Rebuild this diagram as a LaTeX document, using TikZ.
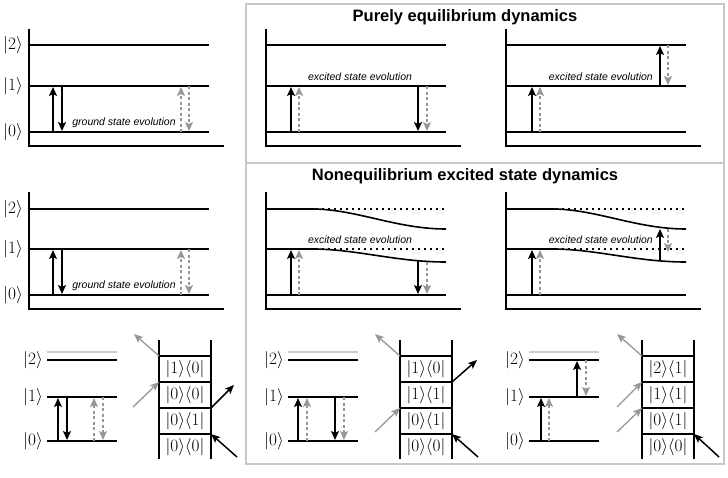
\documentclass[tikz,border=0pt]{standalone}
\usepackage{fontspec}
\setsansfont{Liberation Sans}
\definecolor{framegray}{RGB}{200, 200, 200}
\definecolor{arrowgray}{RGB}{150, 150, 150}
\definecolor{lightlevel}{RGB}{205, 205, 205}
\usetikzlibrary{arrows.meta, calc}
\tikzset{
    lvl/.style={line width=1.6pt},
    blk/.style={line width=1.6pt, -{Stealth[length=9pt, width=8pt, inset=2pt]}},
    gry/.style={line width=1.5pt, arrowgray, dash pattern=on 3pt off 2.5pt,
        -{Stealth[length=9pt, width=8pt, inset=2pt]}},
    lblk/.style={line width=1.5pt, -{Stealth[length=9pt, width=7.5pt, inset=2pt]}},
    lgry/.style={line width=1.3pt, arrowgray, -{Stealth[length=9pt, width=7.5pt, inset=2pt]}},
    dots/.style={line width=1.6pt, dash pattern=on 1.5pt off 4.5pt},
    framebox/.style={line width=1.5pt, framegray},
    ket/.style={font=\fontsize{16.5}{16.5}\selectfont, inner sep=0pt},
    evol/.style={font=\sffamily\itshape\fontsize{10.5}{12}\selectfont, inner sep=0pt},
    ttl/.style={font=\sffamily\bfseries\fontsize{16.5}{18}\selectfont},
    energyaxes/.pic={
        \draw[lvl] (0, 0) -- (0, 117) -- (195, 117);
        \draw[lvl] (0, 103) -- (180, 103);
    },
    minilevels/.pic={
        \draw[line width=1.3pt, lightlevel] (0, 0) -- (70, 0);
        \draw[lvl] (0, 8) -- (70, 8);
        \draw[lvl] (0, 45) -- (70, 45);
        \draw[lvl] (0, 89) -- (70, 89);
        \node[ket, anchor=east] (-k2) at (-4, 8) {$|2\rangle$};
        \node[ket, anchor=east] (-k1) at (-4, 45) {$|1\rangle$};
        \node[ket, anchor=east] (-k0) at (-4, 89) {$|0\rangle$};
    },
    ladder/.pic={
        \draw[lvl] (0, 0) -- (0, 119);
        \draw[lvl] (52, 0) -- (52, 119);
        \foreach \y [count=\i] in {16, 42, 68, 94} {
            \draw[lvl] (0, \y) coordinate (-l\i) -- (52, \y) coordinate (-r\i);
        }
    },
}

\begin{document}
\begin{tikzpicture}[x=1pt, y=-1pt]
    \useasboundingbox (0, 0) rectangle (728, 477);

    % equilibrium / nonequilibrium frames
    \draw[framebox] (246, 4) rectangle (724, 464);
    \draw[framebox] (246, 163) -- (724, 163);
    \node[ttl] (ttlA) at (465, 17) {Purely equilibrium dynamics};
    \node[ttl] (ttlB) at (465, 176) {Nonequilibrium excited state dynamics};

    % top row
    \begin{scope}[shift={(29, 29)}]
        \pic {energyaxes};
        \draw[lvl] (0, 16) -- (180, 16);
        \draw[lvl] (0, 57) -- (180, 57);
        \node[ket, anchor=east] (k2a) at (-6, 16) {$|2\rangle$};
        \node[ket, anchor=east] (k1a) at (-6, 57) {$|1\rangle$};
        \node[ket, anchor=east] (k0a) at (-6, 103) {$|0\rangle$};
        \draw[blk] (24, 103) -- (24, 58);
        \draw[blk] (33, 57) -- (33, 102);
        \draw[gry] (152, 103) -- (152, 58);
        \draw[gry] (160, 57) -- (160, 102);
        \node[evol] (gsA) at (95, 94) {ground state evolution};
    \end{scope}
    \begin{scope}[shift={(266, 29)}]
        \pic {energyaxes};
        \draw[lvl] (0, 16) -- (180, 16);
        \draw[lvl] (0, 57) -- (180, 57);
        \draw[blk] (25, 103) -- (25, 58);
        \draw[gry] (33, 103) -- (33, 58);
        \draw[blk] (152, 57) -- (152, 102);
        \draw[gry] (161, 57) -- (161, 102);
        \node[evol] (esA) at (94, 48) {excited state evolution};
    \end{scope}
    \begin{scope}[shift={(506, 29)}]
        \pic {energyaxes};
        \draw[lvl] (0, 16) -- (180, 16);
        \draw[lvl] (0, 57) -- (180, 57);
        \draw[blk] (26, 103) -- (26, 58);
        \draw[gry] (34, 103) -- (34, 58);
        \draw[blk] (154, 57) -- (154, 17);
        \draw[gry] (162, 16) -- (162, 56);
        \node[evol, anchor=east] (esB) at (147, 48) {excited state evolution};
    \end{scope}

    % middle row
    \begin{scope}[shift={(29, 192)}]
        \pic {energyaxes};
        \draw[lvl] (0, 17) -- (180, 17);
        \draw[lvl] (0, 57) -- (180, 57);
        \node[ket, anchor=east] (k2b) at (-6, 17) {$|2\rangle$};
        \node[ket, anchor=east] (k1b) at (-6, 57) {$|1\rangle$};
        \node[ket, anchor=east] (k0b) at (-6, 103) {$|0\rangle$};
        \draw[blk] (24, 103) -- (24, 58);
        \draw[blk] (33, 57) -- (33, 102);
        \draw[gry] (152, 103) -- (152, 58);
        \draw[gry] (160, 57) -- (160, 102);
        \node[evol] (gsB) at (95, 94) {ground state evolution};
    \end{scope}
    \begin{scope}[shift={(266, 192)}]
        \pic {energyaxes};
        \draw[lvl] (0, 17) -- (46, 17) .. controls (90, 17) and (130, 37) .. (180, 37);
        \draw[lvl] (0, 57) -- (46, 57) .. controls (90, 57) and (130, 70) .. (180, 70);
        \draw[dots] (50, 17) -- (180, 17);
        \draw[dots] (50, 57) -- (180, 57);
        \draw[blk] (25, 103) -- (25, 58);
        \draw[gry] (33, 103) -- (33, 58);
        \draw[blk] (152, 69) -- (152, 102);
        \draw[gry] (161, 70) -- (161, 102);
        \node[evol] (esC) at (94, 48) {excited state evolution};
    \end{scope}
    \begin{scope}[shift={(506, 192)}]
        \pic {energyaxes};
        \draw[lvl] (0, 17) -- (46, 17) .. controls (90, 17) and (130, 37) .. (180, 37);
        \draw[lvl] (0, 57) -- (46, 57) .. controls (90, 57) and (130, 70) .. (180, 70);
        \draw[dots] (50, 17) -- (180, 17);
        \draw[dots] (50, 57) -- (180, 57);
        \draw[blk] (26, 103) -- (26, 58);
        \draw[gry] (34, 103) -- (34, 58);
        \draw[blk] (154, 69) -- (154, 37);
        \draw[gry] (162, 37) -- (162, 60);
        \node[evol, anchor=east] (esD) at (147, 48) {excited state evolution};
    \end{scope}

    % bottom row: level schemes
    \pic (mA) at (47, 352) {minilevels};
    \draw[blk] (58, 441) -- (58, 398);
    \draw[blk] (67, 397) -- (67, 440);
    \draw[gry] (94, 441) -- (94, 398);
    \draw[gry] (103, 397) -- (103, 440);

    \pic (mB) at (288, 352) {minilevels};
    \draw[blk] (298, 441) -- (298, 398);
    \draw[gry] (307, 441) -- (307, 398);
    \draw[blk] (335, 397) -- (335, 440);
    \draw[gry] (344, 397) -- (344, 440);

    \pic (mC) at (529, 352) {minilevels};
    \draw[blk] (541, 441) -- (541, 398);
    \draw[gry] (549, 441) -- (549, 398);
    \draw[blk] (577, 397) -- (577, 361);
    \draw[gry] (586, 360) -- (586, 396);

    % bottom row: ladders
    \pic (lA) at (159, 340) {ladder};
    \node[ket] (cA1) at (185, 369) {$|1\rangle\langle0|$};
    \node[ket] (cA2) at (185, 395) {$|0\rangle\langle0|$};
    \node[ket] (cA3) at (185, 421) {$|0\rangle\langle1|$};
    \node[ket] (cA4) at (185, 447) {$|0\rangle\langle0|$};
    \draw[lgry] (lA-l1) -- ++(-25, -22);
    \draw[lgry] ($(lA-l2) + (-26, 25)$) -- (lA-l2);
    \draw[lblk] (lA-r3) -- ++(23, -23);
    \draw[lblk] ($(lA-r4) + (26, 23)$) -- (lA-r4);

    \pic (lB) at (400, 340) {ladder};
    \node[ket] (cB1) at (426, 369) {$|1\rangle\langle0|$};
    \node[ket] (cB2) at (426, 395) {$|1\rangle\langle1|$};
    \node[ket] (cB3) at (426, 421) {$|0\rangle\langle1|$};
    \node[ket] (cB4) at (426, 447) {$|0\rangle\langle0|$};
    \draw[lgry] (lB-l1) -- ++(-25, -22);
    \draw[lgry] ($(lB-l3) + (-25, 24)$) -- (lB-l3);
    \draw[lblk] (lB-r2) -- ++(25, -22);
    \draw[lblk] ($(lB-r4) + (26, 23)$) -- (lB-r4);

    \pic (lC) at (642, 340) {ladder};
    \node[ket] (cC1) at (668, 369) {$|2\rangle\langle1|$};
    \node[ket] (cC2) at (668, 395) {$|1\rangle\langle1|$};
    \node[ket] (cC3) at (668, 421) {$|0\rangle\langle1|$};
    \node[ket] (cC4) at (668, 447) {$|0\rangle\langle0|$};
    \draw[lgry] (lC-l1) -- ++(-25, -22);
    \draw[lgry] ($(lC-l2) + (-25, 25)$) -- (lC-l2);
    \draw[lgry] ($(lC-l3) + (-25, 24)$) -- (lC-l3);
    \draw[lblk] ($(lC-r4) + (25, 23)$) -- (lC-r4);
\end{tikzpicture}
\end{document}
